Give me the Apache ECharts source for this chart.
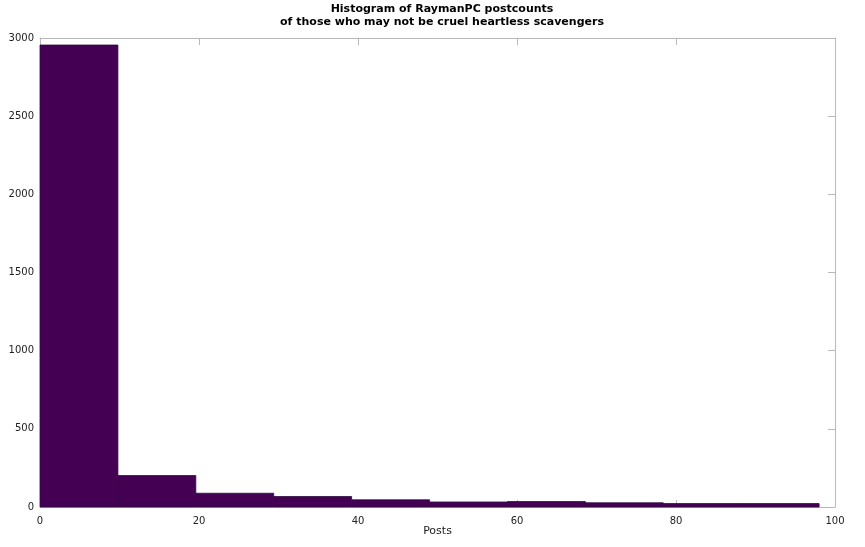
<!DOCTYPE html>
<html>
<head>
<meta charset="utf-8">
<script src="https://cdn.jsdelivr.net/npm/echarts@6/dist/echarts.min.js"></script>
<style>html,body{margin:0;padding:0;background:#fff;}#c{width:865px;height:547px;}</style>
</head>
<body>
<div id="c"></div>
<script>
const titleLines = ["Histogram of RaymanPC postcounts", "of those who may not be cruel heartless scavengers"];
const xLabel = "Posts";
const binEdges = [0, 9.8, 19.6, 29.4, 39.2, 49, 58.8, 68.6, 78.4, 88.2, 98];
const counts = [2955, 201, 88, 67, 46, 32, 35, 27, 22, 22];
const xTicks = [0, 20, 40, 60, 80, 100];
const yTicks = [0, 500, 1000, 1500, 2000, 2500, 3000];

const data = counts.map((c, i) => [binEdges[i], binEdges[i + 1], c]);
const font = "DejaVu Sans";
const chart = echarts.init(document.getElementById('c'), null, {renderer: 'canvas'});
const axisLineStyle = {color: '#b8b8b8', width: 1};
chart.setOption({
  animation: false,
  backgroundColor: '#fff',
  title: {
    text: titleLines.join('\n'),
    left: 437, textAlign: 'center', top: -2,
    textStyle: {fontFamily: font, fontSize: 11, fontWeight: 'bold', color: '#000', lineHeight: 13}
  },
  grid: {left: 40, right: 30, top: 38, bottom: 40, containLabel: false, show: false},
  xAxis: [{
    type: 'value', min: xTicks[0], max: xTicks[xTicks.length - 1], interval: 20,
    name: xLabel, nameLocation: 'middle', nameGap: 19, nameMoveOverlap: false,
    nameTextStyle: {fontFamily: font, fontSize: 11, color: '#222'},
    axisLine: {show: true, onZero: false, lineStyle: axisLineStyle},
    axisTick: {show: true, inside: true, length: 7, lineStyle: axisLineStyle},
    axisLabel: {fontFamily: font, fontSize: 10, color: '#222', margin: 9, formatter: v => String(v)},
    splitLine: {show: false}
  }, {
    type: 'value', position: 'top', min: 0, max: 100, interval: 20,
    axisLine: {show: true, onZero: false, lineStyle: axisLineStyle},
    axisTick: {show: true, inside: true, length: 7, lineStyle: axisLineStyle},
    axisLabel: {show: false}, splitLine: {show: false}
  }],
  yAxis: [{
    type: 'value', min: yTicks[0], max: yTicks[yTicks.length - 1], interval: 500,
    axisLine: {show: true, onZero: false, lineStyle: axisLineStyle},
    axisTick: {show: true, inside: true, length: 7, lineStyle: axisLineStyle},
    axisLabel: {fontFamily: font, fontSize: 10, color: '#222', margin: 6, formatter: v => String(v)},
    splitLine: {show: false}
  }, {
    type: 'value', position: 'right', min: 0, max: 3000, interval: 500,
    axisLine: {show: true, onZero: false, lineStyle: axisLineStyle},
    axisTick: {show: true, inside: true, length: 7, lineStyle: axisLineStyle},
    axisLabel: {show: false}, splitLine: {show: false}
  }],
  series: [{
    type: 'custom',
    xAxisIndex: 0, yAxisIndex: 0,
    encode: {x: [0, 1], y: 2},
    data: data,
    renderItem: function (params, api) {
      const p0 = api.coord([api.value(0), api.value(2)]);
      const p1 = api.coord([api.value(1), 0]);
      return {
        type: 'rect',
        shape: {x: p0[0], y: p0[1], width: p1[0] - p0[0], height: p1[1] - p0[1]},
        style: {fill: '#440154', stroke: '#2e0a3c', lineWidth: 0.8}
      };
    }
  }]
});
</script>
</body>
</html>
